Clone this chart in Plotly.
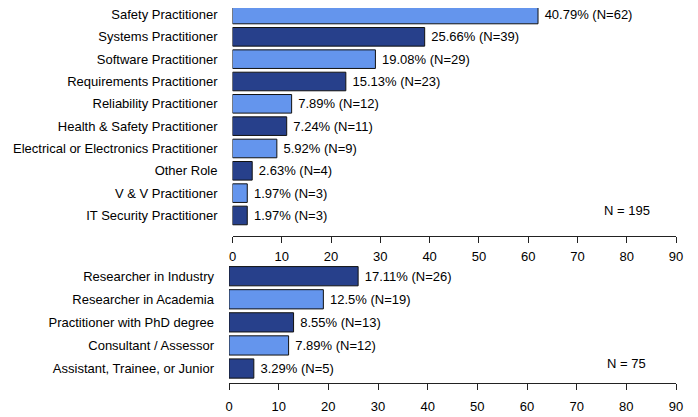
import plotly.graph_objects as go

# ---- data ----
roles = ["Safety Practitioner", "Systems Practitioner", "Software Practitioner",
         "Requirements Practitioner", "Reliability Practitioner",
         "Health & Safety Practitioner", "Electrical or Electronics Practitioner",
         "Other Role", "V & V Practitioner", "IT Security Practitioner"]
role_counts = [62, 39, 29, 23, 12, 11, 9, 4, 3, 3]
role_pcts = [40.79, 25.66, 19.08, 15.13, 7.89, 7.24, 5.92, 2.63, 1.97, 1.97]
role_total = 195

levels = ["Researcher in Industry", "Researcher in Academia",
          "Practitioner with PhD degree", "Consultant / Assessor",
          "Assistant, Trainee, or Junior"]
level_counts = [26, 19, 13, 12, 5]
level_pcts = [17.11, 12.5, 8.55, 7.89, 3.29]
level_total = 75

x_ticks = [0, 10, 20, 30, 40, 50, 60, 70, 80, 90]

LIGHT = "#6495ED"
DARK = "#27408B"
role_colors = [LIGHT, DARK] * 5
level_colors = [DARK, LIGHT, DARK, LIGHT, DARK]

# the page body has an 8px margin: lay out in screen pixels and shift
OFF = 8
W, H = 698 - OFF, 417 - OFF
FONT = "Liberation Sans, Arial, sans-serif"


def fx(px):
    return (px - OFF) / W


def fy(py):
    return 1 - (py - OFF) / H


def labels(pcts, counts):
    return [f" {p:g}% (N={c})" for p, c in zip(pcts, counts)]


fig = go.Figure()
fig.add_trace(go.Bar(
    x=role_counts, y=roles, orientation="h",
    marker=dict(color=role_colors, line=dict(color="#111111", width=1)),
    text=labels(role_pcts, role_counts), textposition="outside",
    textfont=dict(size=13, color="black", family=FONT),
    cliponaxis=False, xaxis="x", yaxis="y", showlegend=False,
))
fig.add_trace(go.Bar(
    x=level_counts, y=levels, orientation="h",
    marker=dict(color=level_colors, line=dict(color="#111111", width=1)),
    text=labels(level_pcts, level_counts), textposition="outside",
    textfont=dict(size=13, color="black", family=FONT),
    cliponaxis=False, xaxis="x2", yaxis="y2", showlegend=False,
))

# screen-pixel geometry of the panels
top_axis_px = 235.5
top_c0, top_step = 14.5, 22.33
bot_top_px, bot_axis_px = 262.0, 383.3
bot_c0, bot_step = 276.2, 23.08
plot_top_px = OFF

xax = dict(range=[0, 90], tickvals=x_ticks, showgrid=False, zeroline=False,
           showline=True, linecolor="#222222", linewidth=1,
           ticks="outside", ticklen=6, tickcolor="#222222", tickwidth=1,
           tickfont=dict(size=13, color="black", family=FONT),
           automargin=False, fixedrange=True)
yax = dict(type="category", showgrid=False, zeroline=False, showline=False,
           ticks="", tickfont=dict(size=13, color="black", family=FONT),
           ticklabelstandoff=14, automargin=False, fixedrange=True)

fig.update_layout(
    width=W, height=H,
    margin=dict(l=0, r=0, t=0, b=0, autoexpand=False),
    paper_bgcolor="white", plot_bgcolor="white",
    bargap=0.1667,
    font=dict(family=FONT, size=13, color="black"),
    xaxis=dict(xax, domain=[fx(232.5), fx(676)], anchor="y", ticklabelstandoff=3),
    xaxis2=dict(xax, domain=[fx(229), fx(676)], anchor="y2", ticklabelstandoff=5),
    yaxis=dict(yax, anchor="x", domain=[fy(top_axis_px), fy(plot_top_px)],
               categoryorder="array", categoryarray=roles,
               range=[(top_axis_px - top_c0) / top_step,
                      (plot_top_px - top_c0) / top_step]),
    yaxis2=dict(yax, anchor="x2", domain=[fy(bot_axis_px), fy(bot_top_px)],
                categoryorder="array", categoryarray=levels,
                range=[(bot_axis_px - bot_c0) / bot_step,
                       (bot_top_px - bot_c0) / bot_step]),
    annotations=[
        dict(x=80, y=(210.7 - top_c0) / top_step, xref="x", yref="y",
             text=f"N = {role_total}", showarrow=False,
             font=dict(size=13, color="black", family=FONT)),
        dict(x=80, y=(363 - bot_c0) / bot_step, xref="x2", yref="y2",
             text=f"N = {level_total}", showarrow=False,
             font=dict(size=13, color="black", family=FONT)),
    ],
)

fig.write_html("out.html")
